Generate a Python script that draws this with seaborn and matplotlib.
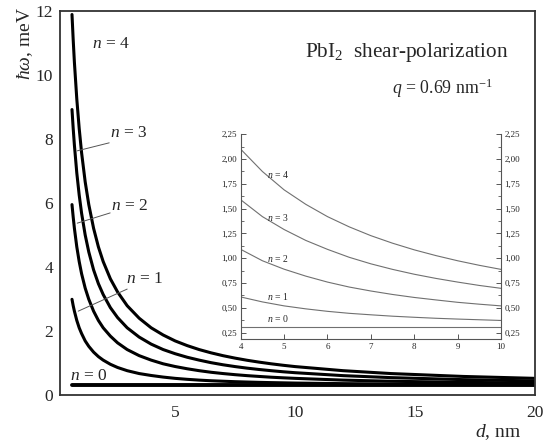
import numpy as np
import pandas as pd
import matplotlib
matplotlib.use("Agg")
import matplotlib.pyplot as plt
import seaborn as sns
from matplotlib.ticker import FuncFormatter, MultipleLocator

# ---- data ----
d_nm = [0.7, 0.75, 0.8, 0.9, 1.0, 1.1, 1.25, 1.4, 1.6, 1.8, 2.0, 2.3, 2.6, 3.0, 3.5,
        4, 4.5, 5, 5.5, 6, 6.5, 7, 7.5, 8, 8.5, 9, 9.5, 10, 12, 14, 17, 20]
E_n0 = [0.31] * len(d_nm)
E_n1 = [2.99, 2.79, 2.62, 2.33, 2.10, 1.92, 1.69, 1.52, 1.34, 1.20, 1.09, 0.96, 0.86, 0.76, 0.67,
        0.61, 0.56, 0.52, 0.49, 0.465, 0.445, 0.43, 0.416, 0.405, 0.395, 0.387, 0.38, 0.373,
        0.355, 0.344, 0.333, 0.327]
E_n2 = [5.95, 5.56, 5.21, 4.63, 4.17, 3.79, 3.34, 2.99, 2.62, 2.33, 2.10, 1.84, 1.63, 1.42, 1.23,
        1.09, 0.975, 0.89, 0.82, 0.76, 0.71, 0.67, 0.635, 0.605, 0.58, 0.556, 0.537, 0.52,
        0.465, 0.43, 0.395, 0.373]
E_n3 = [8.92, 8.33, 7.81, 6.94, 6.25, 5.68, 5.00, 4.47, 3.91, 3.48, 3.14, 2.73, 2.42, 2.10, 1.81,
        1.59, 1.42, 1.29, 1.18, 1.09, 1.01, 0.944, 0.888, 0.839, 0.797, 0.76, 0.726, 0.697,
        0.605, 0.543, 0.48, 0.44]
E_n4 = [11.89, 11.10, 10.40, 9.25, 8.33, 7.57, 6.66, 5.95, 5.21, 4.63, 4.17, 3.63, 3.22, 2.79, 2.40,
        2.10, 1.875, 1.69, 1.544, 1.42, 1.317, 1.228, 1.152, 1.085, 1.027, 0.975, 0.929, 0.888,
        0.76, 0.67, 0.58, 0.52]
mode_labels = ["n = 0", "n = 1", "n = 2", "n = 3", "n = 4"]
main_xticks = [5, 10, 15, 20]
main_yticks = [0, 2, 4, 6, 8, 10, 12]
inset_xticks = [4, 5, 6, 7, 8, 9, 10]
inset_yticks = [0.25, 0.50, 0.75, 1.00, 1.25, 1.50, 1.75, 2.00, 2.25]

series = [E_n0, E_n1, E_n2, E_n3, E_n4]
df = pd.DataFrame({
    "d": np.tile(d_nm, len(series)),
    "E": np.concatenate(series),
    "mode": np.repeat(mode_labels, len(d_nm)),
})

sns.set_style("white")
plt.rcParams["font.family"] = ["Liberation Serif", "DejaVu Serif"]
plt.rcParams["mathtext.fontset"] = "custom"
plt.rcParams["mathtext.rm"] = "Liberation Serif"
plt.rcParams["mathtext.it"] = "Liberation Serif:italic"

fig = plt.figure(figsize=(5.52, 4.46), dpi=100)
ax = fig.add_axes([60 / 552, 1 - 395 / 446, 475 / 552, 384 / 446])

for lab in mode_labels:
    sub = df[df["mode"] == lab]
    sns.lineplot(data=sub, x="d", y="E", ax=ax, color="black",
                 lw=2.8 if lab == "n = 0" else 2.2, estimator=None, sort=False,
                 legend=False)

ax.set_xlim(0.2, 20)
ax.set_ylim(0, 12)
ax.set_xticks(main_xticks)
ax.set_yticks(main_yticks)
ax.set_xlabel("")
ax.set_ylabel("")
ax.tick_params(direction="in", length=5, width=1.1, labelsize=12.5, color="#333333")
ax.tick_params(axis="x", pad=7)
ax.tick_params(axis="y", pad=5)
for s in ax.spines.values():
    s.set_linewidth(1.3)
    s.set_color("#333333")

# mode annotations
ax.text(2.33, 10.97, "$n$ = 4", fontsize=12.5, ha="center", va="center")
ax.text(3.05, 8.19, "$n$ = 3", fontsize=12.5, ha="center", va="center")
ax.text(3.08, 5.9, "$n$ = 2", fontsize=12.5, ha="center", va="center")
ax.text(3.7, 3.62, "$n$ = 1", fontsize=12.5, ha="center", va="center")
ax.text(1.4, 0.6, "$n$ = 0", fontsize=12.5, ha="center", va="center")
for (x1, y1, x2, y2) in [(0.92, 7.63, 2.25, 7.88), (0.92, 5.37, 2.29, 5.69), (0.96, 2.62, 3.0, 3.31)]:
    ax.plot([x1, x2], [y1, y2], color="#555555", lw=0.7)

fig.text(305 / 552, 1 - 52 / 446, "PbI$_2$  shear-polarization", fontsize=15.3, ha="left", va="center")
fig.text(493 / 552, 1 - 88 / 446, "$q$ = 0.69 nm$^{-1}$", fontsize=12.8, ha="right", va="center")
fig.text(25 / 552, 1 - 7 / 446, "$ħω$, meV", fontsize=14, rotation=90, ha="center", va="top")
fig.text(498 / 552, 1 - 432 / 446, "$d$, nm", fontsize=14, ha="center", va="center")

# inset
axi = fig.add_axes([240.7 / 552, 1 - 339.3 / 446, 260.3 / 552, 205 / 446])
for lab in mode_labels:
    sub = df[df["mode"] == lab]
    sns.lineplot(data=sub, x="d", y="E", ax=axi, color="#707070", lw=0.8,
                 estimator=None, sort=False, legend=False)
axi.set_xlim(4, 10)
axi.set_ylim(0.183, 2.25)
axi.set_xticks(inset_xticks)
axi.set_yticks(inset_yticks)
axi.yaxis.set_minor_locator(MultipleLocator(0.125))
axi.yaxis.set_major_formatter(FuncFormatter(lambda v, p: f"{v:.2f}".replace(".", ",")))
axi.set_xlabel("")
axi.set_ylabel("")
axi.spines["top"].set_visible(False)
for s in ["left", "right", "bottom"]:
    axi.spines[s].set_linewidth(0.8)
    axi.spines[s].set_color("#555555")
axi.tick_params(which="both", direction="in", labelsize=6.5, color="#555555",
                left=True, right=True, bottom=True, labelright=True, labelleft=True)
axi.tick_params(which="major", length=3.5, width=0.7, pad=2.5)
axi.tick_params(which="minor", length=2, width=0.6)
axi.patch.set_alpha(0)

axi.text(4.86, 1.845, "$n$ = 4", fontsize=7, ha="center", va="center")
axi.text(4.86, 1.41, "$n$ = 3", fontsize=7, ha="center", va="center")
axi.text(4.86, 1.0, "$n$ = 2", fontsize=7, ha="center", va="center")
axi.text(4.86, 0.61, "$n$ = 1", fontsize=7, ha="center", va="center")
axi.text(4.86, 0.395, "$n$ = 0", fontsize=7, ha="center", va="center")

fig.savefig("out.png", dpi=100)
